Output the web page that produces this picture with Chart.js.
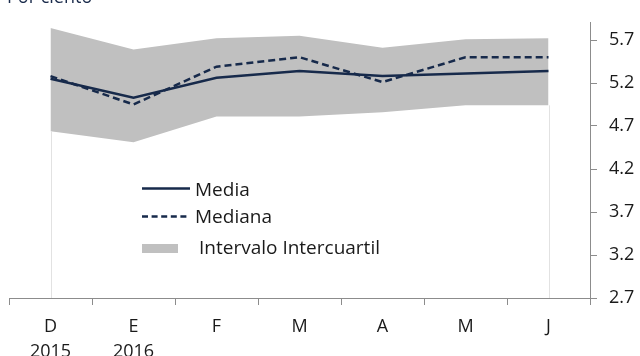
<!DOCTYPE html>
<html>
<head>
<meta charset="utf-8">
<script src="https://cdn.jsdelivr.net/npm/chart.js@4"></script>
<style>
  body { margin: 0; background: #fff; font-family: "Open Sans", sans-serif; }
  #wrap { position: relative; width: 640px; height: 356px; overflow: hidden; }
  #title { position: absolute; left: 7px; top: -16px; font-size: 18px; color: #1b2c4c; line-height: 24px; }
  .leg { position: absolute; font-size: 19px; color: #1a1a1a; line-height: 20px; white-space: nowrap; }
</style>
</head>
<body>
<div id="wrap">
  <canvas id="chart" width="640" height="356"></canvas>
  <div id="title">Por ciento</div>
  <div class="leg" style="left:195px; top:179px;">Media</div>
  <div class="leg" style="left:195px; top:206px;">Mediana</div>
  <div class="leg" style="left:199px; top:237px;">Intervalo Intercuartil</div>
</div>
<script>
const months = [['D', '2015'], ['E', '2016'], 'F', 'M', 'A', 'M', 'J'];
const media = [5.25, 5.03, 5.26, 5.34, 5.28, 5.31, 5.34];
const mediana = [5.28, 4.95, 5.39, 5.50, 5.21, 5.50, 5.50];
const q3 = [5.84, 5.59, 5.72, 5.75, 5.61, 5.71, 5.72];
const q1 = [4.64, 4.51, 4.81, 4.81, 4.86, 4.94, 4.94];
const yTicks = [2.7, 3.2, 3.7, 4.2, 4.7, 5.2, 5.7];

const navy = '#172a4b';
const band = '#c0c0c0';

// thin drop lines at the first and last month, like the reference
const dropLines = {
  id: 'dropLines',
  beforeDatasetsDraw(chart) {
    const ctx = chart.ctx;
    const x = chart.scales.x, y = chart.scales.y;
    ctx.save();
    ctx.strokeStyle = '#e2e2e2';
    ctx.lineWidth = 1;
    [0, months.length - 1].forEach((i) => {
      const px = Math.round(x.getPixelForValue(i)) + 0.5;
      ctx.beginPath();
      ctx.moveTo(px, y.getPixelForValue(q1[i]));
      ctx.lineTo(px, y.bottom);
      ctx.stroke();
    });
    ctx.restore();
  }
};

// legend line samples
const legendMarks = {
  id: 'legendMarks',
  afterDraw(chart) {
    const ctx = chart.ctx;
    ctx.save();
    ctx.strokeStyle = navy;
    ctx.lineWidth = 2.5;
    ctx.beginPath();
    ctx.moveTo(142, 188.5);
    ctx.lineTo(190, 188.5);
    ctx.stroke();
    ctx.setLineDash([6, 3.6]);
    ctx.beginPath();
    ctx.moveTo(142, 216.5);
    ctx.lineTo(190, 216.5);
    ctx.stroke();
    ctx.fillStyle = band;
    ctx.fillRect(142, 244, 36, 9);
    ctx.restore();
  }
};

new Chart(document.getElementById('chart'), {
  type: 'line',
  data: {
    labels: months,
    datasets: [
      {
        label: 'Media',
        data: media,
        borderColor: navy,
        borderWidth: 2.5,
        pointRadius: 0,
        tension: 0,
        fill: false,
        order: 1
      },
      {
        label: 'Mediana',
        data: mediana,
        borderColor: navy,
        borderWidth: 2.5,
        borderDash: [7, 4],
        pointRadius: 0,
        tension: 0,
        fill: false,
        order: 0
      },
      {
        label: 'Intervalo Intercuartil',
        data: q3,
        borderWidth: 0,
        borderColor: 'rgba(0,0,0,0)',
        backgroundColor: band,
        pointRadius: 0,
        fill: 3,
        order: 5
      },
      {
        label: 'q1',
        data: q1,
        borderWidth: 0,
        borderColor: 'rgba(0,0,0,0)',
        pointRadius: 0,
        fill: false,
        order: 6
      }
    ]
  },
  options: {
    responsive: false,
    animation: false,
    layout: { padding: { left: 9, top: 21, right: 0, bottom: 0 } },
    plugins: {
      legend: { display: false },
      tooltip: { enabled: false },
      filler: { drawTime: 'beforeDatasetsDraw' }
    },
    scales: {
      x: {
        offset: true,
        grid: { offset: true, drawOnChartArea: false, tickLength: 7, color: '#8c8c8c' },
        border: { color: '#8c8c8c', width: 1 },
        ticks: {
          color: '#1a1a1a',
          font: { family: 'Open Sans', size: 18, lineHeight: 1.35 },
          padding: 10,
          maxRotation: 0,
          autoSkip: false
        },
        afterFit(scale) { scale.height = 58; }
      },
      y: {
        position: 'right',
        min: 2.7,
        max: 5.9,
        afterBuildTicks(scale) { scale.ticks = yTicks.map((v) => ({ value: v })); },
        grid: { drawOnChartArea: false, tickLength: 7, color: '#8c8c8c' },
        border: { color: '#8c8c8c', width: 1 },
        ticks: {
          color: '#1a1a1a',
          font: { family: 'Open Sans', size: 18 },
          padding: 12,
          callback: (v) => v.toFixed(1)
        },
        afterFit(scale) { scale.width = 50; }
      }
    }
  },
  plugins: [dropLines, legendMarks]
});
</script>
</body>
</html>
